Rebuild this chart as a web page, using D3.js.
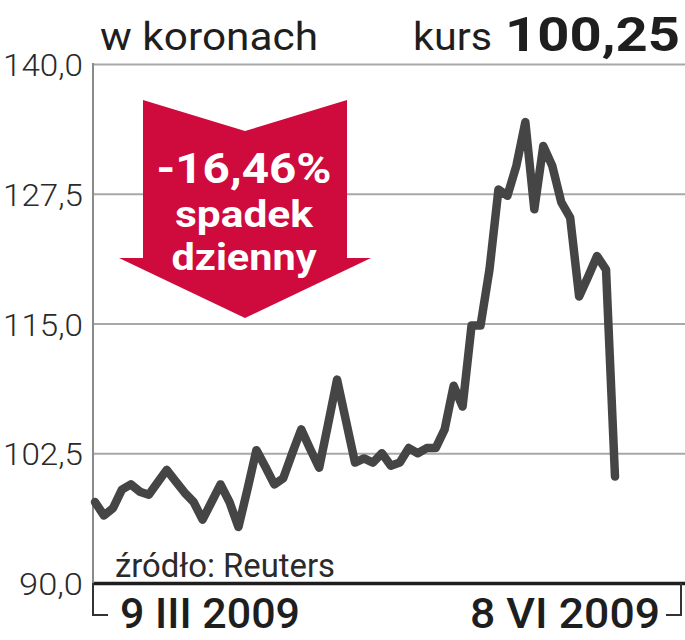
<!DOCTYPE html>
<html><head><meta charset="utf-8">
<script src="https://cdn.jsdelivr.net/npm/d3@7"></script>
<style>body{margin:0;background:#fff}svg{display:block}</style>
</head><body>
<svg id="c" width="685" height="640"></svg>
<script>
// ---- data ----
const values = [97.8, 96.5, 97.2, 99.0, 99.5, 98.8, 98.5, 99.7, 100.9, 99.8,
  98.7, 97.8, 96.1, 97.8, 99.5, 97.8, 95.4, 99.0, 102.8, 101.2,
  99.5, 100.1, 102.5, 104.8, 102.9, 101.1, 105.3, 109.6, 105.6, 101.6,
  102.0, 101.6, 102.5, 101.3, 101.6, 103.0, 102.5, 103.0, 103.0, 104.8,
  109.0, 107.0, 114.8, 114.8, 120.2, 127.9, 127.3, 130.2, 134.4, 126.0,
  132.1, 130.2, 126.7, 125.2, 117.6, 119.5, 121.5, 120.2, 100.25];
const yTicks = [90, 102.5, 115, 127.5, 140];
const yTickLabels = ["90,0", "102,5", "115,0", "127,5", "140,0"];
const xLabels = ["9 III 2009", "8 VI 2009"];
const titleText = "w koronach";
const kursText = "kurs";
const kursValue = "100,25";
const changeLines = ["-16,46%", "spadek", "dzienny"];
const sourceText = "źródło: Reuters";

// ---- layout ----
const svg = d3.select("#c");
const L = 93, R = 685, T = 64, B = 583;
const x = d3.scaleLinear().domain([0, values.length - 1]).range([95, 615]);
const y = d3.scaleLinear().domain([90, 140]).range([B, T]);
const FONT = "Roboto, 'Liberation Sans', sans-serif";

// grid lines
const yAxis = d3.axisLeft(y).tickValues(yTicks).tickSize(-(R - L)).tickFormat((d, i) => yTickLabels[i]);
const gA = svg.append("g").attr("transform", `translate(${L},0)`).call(yAxis);
gA.select(".domain").remove();
gA.selectAll(".tick line").attr("stroke", "#a8a8a8").attr("stroke-width", 2);
gA.selectAll(".tick").filter(d => d === 90).select("line").attr("stroke", "#1e1e1e").attr("stroke-width", 3.5);
gA.selectAll(".tick text")
  .attr("x", -10).attr("dy", "0.36em")
  .attr("font-family", FONT).attr("font-weight", 300).attr("font-size", 32)
  .attr("fill", "#2a2a2a")
  .attr("textLength", d => d === 90 ? 64 : 80).attr("lengthAdjust", "spacingAndGlyphs");

// vertical axis line
svg.append("line").attr("x1", L).attr("x2", L).attr("y1", T - 1).attr("y2", B)
  .attr("stroke", "#8a8a8a").attr("stroke-width", 2);

// red arrow annotation
const arrow = [[143,100],[245,131],[347,100],[347,258],[371,258],[245,318],[119,258],[143,258]];
svg.append("path").attr("d", d3.line()(arrow) + "Z").attr("fill", "#cf0a3c");
const arrowText = svg.append("g").attr("font-family", FONT).attr("font-weight", 700)
  .attr("fill", "#fff").attr("text-anchor", "middle");
const aBase = [183, 227, 270], aLen = [175, 138, 145], aSize = [42, 36, 36];
changeLines.forEach((t, i) => {
  arrowText.append("text").attr("x", 244).attr("y", aBase[i]).attr("font-size", aSize[i])
    .attr("textLength", aLen[i]).attr("lengthAdjust", "spacingAndGlyphs").text(t);
});

// data line
svg.append("path").datum(values)
  .attr("d", d3.line().x((d, i) => x(i)).y(d => y(d)))
  .attr("fill", "none").attr("stroke", "#454545").attr("stroke-width", 8.5)
  .attr("stroke-linejoin", "round").attr("stroke-linecap", "round");

// headings
svg.append("text").attr("x", 100).attr("y", 50).attr("font-family", FONT).attr("font-size", 39)
  .attr("fill", "#1e1e1e").attr("textLength", 218).attr("lengthAdjust", "spacingAndGlyphs").text(titleText);
svg.append("text").attr("x", 413).attr("y", 50).attr("font-family", FONT).attr("font-size", 39)
  .attr("fill", "#1e1e1e").attr("textLength", 79).attr("lengthAdjust", "spacingAndGlyphs").text(kursText);
svg.append("text").attr("x", 505).attr("y", 51).attr("font-family", FONT).attr("font-weight", 700).attr("font-size", 49)
  .attr("fill", "#1e1e1e").attr("textLength", 175).attr("lengthAdjust", "spacingAndGlyphs").text(kursValue);

// source
svg.append("text").attr("x", 115).attr("y", 577).attr("font-family", FONT).attr("font-size", 34)
  .attr("fill", "#2a2a2a").attr("textLength", 220).attr("lengthAdjust", "spacingAndGlyphs").text(sourceText);

// x axis labels and brackets
svg.append("path").attr("d", `M${L},${B} V615 H108`).attr("fill", "none").attr("stroke", "#333").attr("stroke-width", 2);
svg.append("path").attr("d", `M666,615 H681 V${B}`).attr("fill", "none").attr("stroke", "#333").attr("stroke-width", 2);
svg.append("text").attr("x", 120).attr("y", 628).attr("font-family", FONT).attr("font-weight", 500).attr("font-size", 43)
  .attr("fill", "#1e1e1e").attr("textLength", 180).attr("lengthAdjust", "spacingAndGlyphs").text(xLabels[0]);
svg.append("text").attr("x", 470).attr("y", 628).attr("font-family", FONT).attr("font-weight", 500).attr("font-size", 43)
  .attr("fill", "#1e1e1e").attr("textLength", 190).attr("lengthAdjust", "spacingAndGlyphs").text(xLabels[1]);
</script>
</body></html>
